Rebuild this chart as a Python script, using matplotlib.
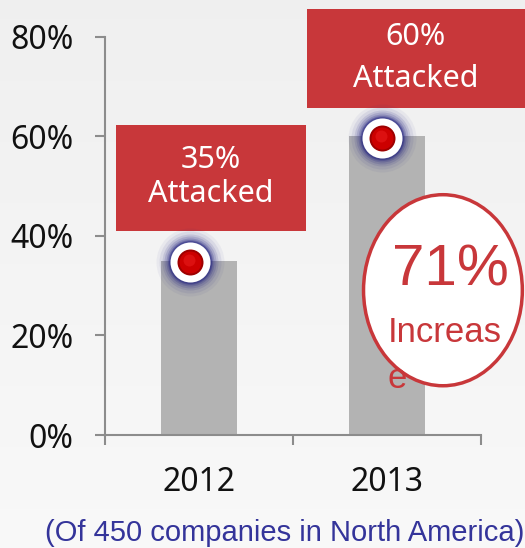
import numpy as np
import matplotlib.pyplot as plt
from matplotlib.patches import Rectangle, Ellipse

years = ['2012', '2013']
attacked = [0.35, 0.60]
box_pct = ['35%', '60%']
box_word = 'Attacked'
yticks = [0, 0.2, 0.4, 0.6, 0.8]
ytick_labels = ['0%', '20%', '40%', '60%', '80%']
increase_label = '71%'
footer = '(Of 450 companies in North America)'

red = '#c8373a'
bar_gray = '#b3b3b3'
axis_gray = '#8c8c8c'
tick_font = 'Noto Sans'

fig = plt.figure(figsize=(5.25, 5.48), dpi=100)

# light gray background with a faint vertical gradient
bg = fig.add_axes([0, 0, 1, 1], zorder=-10)
grad = np.linspace(0.975, 0.94, 256).reshape(-1, 1)
bg.imshow(np.dstack([grad, grad, grad]), aspect='auto', extent=[0, 1, 0, 1], origin='lower')
bg.axis('off')

ax = fig.add_axes([0.2, 0.2062, 0.716, 0.7263])
ax.patch.set_alpha(0)

x = np.arange(len(years))
ax.bar(x, attacked, width=0.4, color=bar_gray, zorder=2)

ax.set_xlim(-0.5, 1.5)
ax.set_ylim(0, 0.8)

for s in ['top', 'right']:
    ax.spines[s].set_visible(False)
for s in ['left', 'bottom']:
    ax.spines[s].set_color(axis_gray)
    ax.spines[s].set_linewidth(1.5)

ax.set_yticks(yticks)
ax.set_yticklabels(ytick_labels, fontsize=23, fontfamily=tick_font, color='#111111')
ax.tick_params(axis='y', direction='out', length=7.5, width=1.5, color=axis_gray, pad=15)

ax.set_xticks(x)
ax.set_xticklabels(years, fontsize=23, fontfamily=tick_font, color='#111111')
ax.tick_params(axis='x', which='major', length=0, pad=22)
ax.set_xticks([-0.5, 0.5, 1.5], minor=True)
ax.tick_params(axis='x', which='minor', direction='out', length=7.5, width=1.5, color=axis_gray)

# red label boxes (x, y, w, h) and the two text line heights
boxes = [(-0.441, 0.41, 1.01, 0.213), (0.574, 0.657, 1.16, 0.199)]
line_y = [(0.552, 0.484), (0.800, 0.716)]
for (bx, by, bw, bh), pct, (y1, y2) in zip(boxes, box_pct, line_y):
    ax.add_patch(Rectangle((bx, by), bw, bh, facecolor=red, edgecolor='none',
                           clip_on=False, zorder=3))
    ax.text(bx + bw / 2, y1, pct, ha='center', va='center',
            color='white', fontsize=22, fontfamily=tick_font, zorder=4, clip_on=False)
    ax.text(bx + bw / 2, y2, box_word, ha='center', va='center',
            color='white', fontsize=22, fontfamily=tick_font, zorder=4, clip_on=False)

# glowing markers at the bar tops
mx = x - np.array([0.048, 0.025])
my = np.array(attacked) - 0.003
for r, a in zip([34, 31, 28, 26, 24, 22.5, 21.5], [0.05, 0.08, 0.12, 0.16, 0.22, 0.3, 0.45]):
    ax.scatter(mx, my, s=(1.44 * r) ** 2, color='#262680', alpha=a, linewidths=0,
               zorder=5, clip_on=False)
ax.scatter(mx, my, s=(1.44 * 20) ** 2, color='white', linewidths=0, zorder=6, clip_on=False)
ax.scatter(mx, my, s=(1.44 * 13) ** 2, color='#9e0000', linewidths=0, zorder=7, clip_on=False)
ax.scatter(mx, my, s=(1.44 * 11) ** 2, color='#cc0000', linewidths=0, zorder=8, clip_on=False)
ax.scatter(mx - 0.006, my + 0.004, s=(1.44 * 6) ** 2, color='#dc1010', linewidths=0,
           zorder=9, clip_on=False)

# the "71% increase" bubble
ax.add_patch(Ellipse((1.298, 0.291), 0.845, 0.384, facecolor='white', edgecolor=red,
                     linewidth=2.5, clip_on=False, zorder=10))
ax.text(1.338, 0.33, increase_label, ha='center', va='center', color=red,
        fontsize=42, fontfamily='Liberation Sans', zorder=11, clip_on=False)
ax.text(1.005, 0.187, 'Increas', ha='left', va='baseline', color=red,
        fontsize=25, fontfamily='Liberation Sans', zorder=11, clip_on=False)
ax.text(1.005, 0.0945, 'e', ha='left', va='baseline', color=red,
        fontsize=25, fontfamily='Liberation Sans', zorder=11, clip_on=False)

fig.text(0.542, 0.027, footer, ha='center', va='center', color='#34349a',
         fontsize=21, fontfamily='Liberation Sans')

fig.savefig('out.png', dpi=100, facecolor=fig.get_facecolor())
